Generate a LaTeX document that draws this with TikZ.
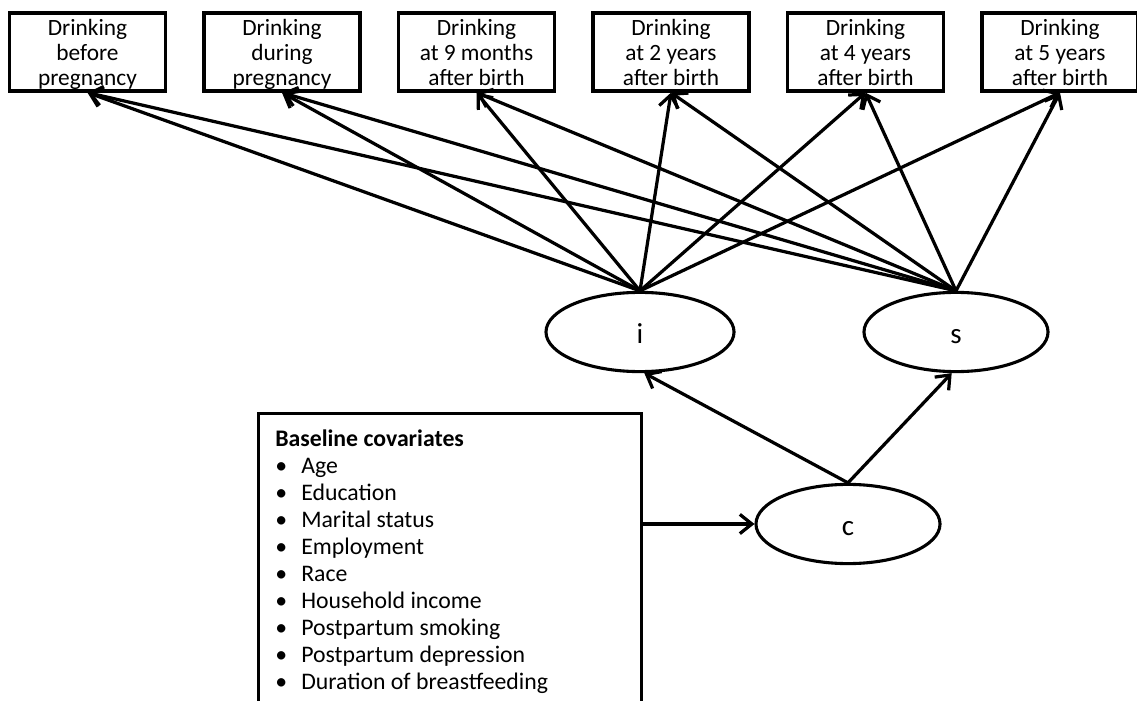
\documentclass[tikz,border=0pt]{standalone}
\usepackage{fontspec}
\setmainfont{Carlito}
\usetikzlibrary{shapes.geometric, arrows.meta}

\tikzset{
    drinkbox/.style={draw, line width=2.3pt, minimum width=3.9cm, minimum height=1.95cm,
        inner sep=0pt, align=center, text depth=0pt, font=\fontsize{16.6}{17.8}\selectfont},
    latent/.style={draw, ellipse, line width=2.2pt, minimum width=4.6cm, minimum height=1.98cm,
        inner sep=0pt, text height=17pt, text depth=0pt, font=\fontsize{20.6}{24}\selectfont},
    effect/.style={line width=2.3pt, -{Straight Barb[length=3mm, width=4.8mm, line width=2.3pt]}},
}
\newcommand{\covitem}[1]{\makebox[18.5pt][l]{\textbullet}#1}

\begin{document}
\begin{tikzpicture}[x=0.025cm, y=-0.025cm]
        \useasboundingbox (0, 0) rectangle (1137, 701);
        % repeated measures
        \node[drinkbox] (drink1) at (87.5, 52) {Drinking\\before\\pregnancy};
        \node[drinkbox] (drink2) at (282, 52) {Drinking\\during\\pregnancy};
        \node[drinkbox] (drink3) at (476.5, 52) {Drinking\\at 9 months\\after birth};
        \node[drinkbox] (drink4) at (671, 52) {Drinking\\at 2 years\\after birth};
        \node[drinkbox] (drink5) at (865.5, 52) {Drinking\\at 4 years\\after birth};
        \node[drinkbox] (drink6) at (1060, 52) {Drinking\\at 5 years\\after birth};
        % growth factors
        \node[latent, minimum width=4.7cm] (i) at (640, 332) {i};
        \node[latent] (s) at (956, 332) {s};
        \node[latent] (c) at (848, 524) {c};
        % covariates
        \node[draw, line width=2.3pt, minimum width=9.575cm, minimum height=7.6cm,
            anchor=north west] (cov) at (257, 412) {};
        \node[anchor=north west, inner sep=0pt, align=left,
            font=\fontsize{16.9}{19.2}\selectfont] (covlist) at (275, 430) {%
            \textbf{Baseline covariates}\\
            \covitem{Age}\\
            \covitem{Education}\\
            \covitem{Marital status}\\
            \covitem{Employment}\\
            \covitem{Race}\\
            \covitem{Household income}\\
            \covitem{Postpartum smoking}\\
            \covitem{Postpartum depression}\\
            \covitem{Duration of breastfeeding}};
        % loadings
        \draw[effect] (i.north) -- (drink1.south);
        \draw[effect] (i.north) -- (drink2.south);
        \draw[effect] (i.north) -- (drink3.south);
        \draw[effect] (i.north) -- (drink4.south);
        \draw[effect] (i.north) -- (drink5.south);
        \draw[effect] (i.north) -- (drink6.south);
        \draw[effect] (s.north) -- (drink1.south);
        \draw[effect] (s.north) -- (drink2.south);
        \draw[effect] (s.north) -- (drink3.south);
        \draw[effect] (s.north) -- (drink4.south);
        \draw[effect] (s.north) -- (drink5.south);
        \draw[effect] (s.north) -- (drink6.south);
        % class and covariates
        \draw[effect] (c.north) -- (i.-84);
        \draw[effect] (c.north) -- (s.-96);
        \draw[effect] (cov.east |- c.west) -- (c.west);
    \end{tikzpicture}
\end{document}
